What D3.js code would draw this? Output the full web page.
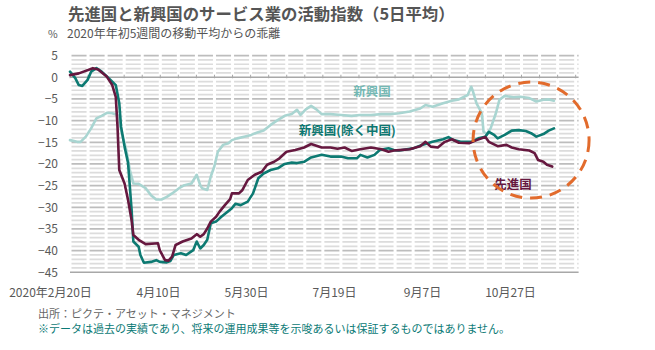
<!DOCTYPE html>
<html>
<head>
<meta charset="utf-8">
<script src="https://cdn.jsdelivr.net/npm/d3@7/dist/d3.min.js"></script>
<style>
  html, body { margin: 0; padding: 0; background: #fff; }
  svg { display: block; }
  text { font-family: "Noto Sans CJK JP", "Noto Sans", sans-serif; }
</style>
</head>
<body>
<svg id="chart" width="655" height="350"></svg>
<script>
// Days counted from 2020-02-20, value = % deviation from the early-2020 5-week average
const startDate = new Date(2020, 1, 20);
const endDate = new Date(2020, 11, 5);

const advanced = [
  [0,0.5],[5,0.9],[13,2.1],[16,1.8],[21,0.1],[24,-1.8],[26,-4.5],[27,-11.4],[28,-21.4],[31,-24.5],
  [33,-28.3],[35,-33],[36,-36.4],[39,-37.5],[43,-38.5],[50,-38.3],[51,-39.9],[54,-42.2],[56,-42.3],[58,-41.4],
  [60,-38.7],[64,-37.9],[69,-37.2],[72,-36.2],[74,-36.8],[76,-36.2],[78,-34.9],[80,-33.3],[83,-32.2],[85,-31],
  [88,-29.5],[91,-28.1],[92,-26.8],[96,-26.8],[98,-26],[101,-23.7],[105,-22.5],[109,-21.8],[112,-20.2],[116,-19.5],
  [119,-18.7],[123,-17.2],[128,-16.8],[133,-16.2],[137,-15.4],[143,-16.2],[148,-16.2],[152,-16.5],[156,-16.2],[160,-17],
  [165,-16.6],[171,-16.2],[177,-16.6],[181,-17.2],[184,-16.9],[187,-16.8],[193,-16.6],[199,-15.9],[202,-14.9],[205,-16],
  [209,-16.2],[213,-14.9],[217,-14.3],[221,-15.1],[227,-15.2],[231,-14.5],[236,-13.8],[238,-14.9],[243,-15.9],[248,-15.6],
  [251,-16.2],[255,-16.6],[261,-16.9],[264,-17.5],[266,-19.1],[269,-19.5],[271,-20.2],[274,-20.6]
];

const emergingExChina = [
  [0,1.3],[3,-0.2],[5,-1.8],[7,-2],[10,-0.6],[12,1.3],[15,2.1],[18,1.3],[22,-0.2],[26,-1.8],
  [28,-6],[29,-11.4],[31,-16],[33,-19.8],[34,-25.2],[35,-30.6],[36,-37.9],[39,-39.1],[40,-41],[42,-42.8],
  [46,-42.6],[49,-42.2],[51,-42.6],[55,-42.7],[57,-42.4],[59,-41],[63,-40.6],[66,-41],[70,-39.9],[72,-37.9],
  [74,-39.5],[76,-38.7],[78,-37.5],[80,-33.7],[83,-33.3],[86,-32.2],[89,-31.2],[92,-30.2],[94,-29.2],[97,-29.5],
  [101,-28.7],[104,-26.8],[107,-23.3],[110,-22.2],[114,-21.4],[118,-21],[122,-20],[126,-19.7],[129,-19.8],[133,-19.5],
  [137,-18.5],[143,-17.9],[148,-18.3],[154,-18.3],[158,-18.7],[163,-18.7],[165,-17.9],[169,-18.5],[173,-17.9],[176,-16.8],
  [181,-16.4],[184,-16.8],[187,-16.9],[195,-16.4],[200,-15.6],[206,-14.9],[212,-14.3],[215,-13.8],[218,-14.5],[222,-14.9],
  [228,-14.9],[232,-14.1],[236,-13.7],[238,-12.6],[241,-13.3],[243,-14.1],[247,-13.3],[251,-12.3],[255,-12.2],[259,-12.4],
  [262,-12.9],[265,-13.7],[269,-13.1],[272,-12.3],[275,-11.8]
];

const emerging = [
  [0,-14.5],[4,-14.9],[6,-14.9],[9,-13.7],[12,-11.8],[15,-9.5],[18,-8.9],[21,-8.2],[24,-8.3],[27,-8.7],
  [30,-13.7],[32,-16.8],[34,-21.4],[36,-24.5],[39,-24.6],[43,-25.6],[46,-27.2],[49,-28.2],[52,-28.2],[55,-27.6],
  [58,-26.8],[62,-25.6],[65,-24.9],[69,-24.5],[72,-22.5],[74,-24.9],[75,-25.6],[78,-26],[80,-22.9],[82,-20.6],
  [84,-17.2],[87,-15.6],[90,-15.2],[92,-14.5],[95,-14.1],[99,-13.7],[103,-13.3],[106,-12.8],[110,-12.3],[114,-11],
  [118,-9.9],[122,-8.9],[126,-8.5],[129,-7.5],[131,-8.7],[134,-7.4],[137,-6.6],[140,-7.4],[143,-8.5],[148,-8.5],
  [154,-8.7],[160,-8.9],[165,-8.7],[171,-8.7],[177,-8.5],[182,-8.5],[187,-8.3],[193,-7.9],[199,-7.2],[202,-6.4],
  [206,-6.8],[212,-6],[217,-5.4],[221,-5.1],[226,-4.1],[228,-2.2],[229,-3.3],[231,-6],[234,-8.3],[235,-12.6],
  [237,-13.1],[239,-11.8],[242,-8.3],[244,-5.2],[247,-4.3],[252,-4.6],[256,-4.5],[261,-4.8],[265,-5.6],[269,-5.2],
  [272,-5.1],[275,-5.4]
];

const yTicks = [5, 0, -5, -10, -15, -20, -25, -30, -35, -40, -45];
const xTickDates = ["2020-02-20", "2020-04-10", "2020-05-30", "2020-07-19", "2020-09-07", "2020-10-27"];

const seriesLabels = [
  { name: "新興国", day: 161, value: -4.3, color: "#74b8b3" },
  { name: "新興国(除く中国)", day: 130, value: -13.3, color: "#0d7770" },
  { name: "先進国", day: 241, value: -25.8, color: "#66183f" }
];

const svg = d3.select("#chart");
const plotLeft = 70, plotRight = 578.6, plotTop = 55.6, plotBottom = 272.3;

const x = d3.scaleTime().domain([startDate, endDate]).range([plotLeft, plotRight]);
const y = d3.scaleLinear().domain([-45, 5]).range([plotBottom, plotTop]);
const dayToDate = d => d3.timeDay.offset(startDate, d);
const parse = d3.timeParse("%Y-%m-%d");

// Titles
svg.append("text").attr("x", 68).attr("y", 19.5)
  .attr("font-size", 16.4).attr("font-weight", "bold").attr("fill", "#555")
  .text("先進国と新興国のサービス業の活動指数（5日平均）");
svg.append("text").attr("x", 67).attr("y", 38)
  .attr("font-size", 12).attr("fill", "#555")
  .text("2020年年初5週間の移動平均からの乖離");
svg.append("text").attr("x", 48).attr("y", 38)
  .attr("font-size", 10.5).attr("fill", "#555").text("%");

// Horizontal gridlines at every unit; dashes break at each minor tick
const tickStep = 18.06;
const grid = svg.append("g");
d3.range(-45, 6).forEach(v => {
  const solid = (v === 0 || v === -45);
  const major = v % 5 === 0;
  const ln = grid.append("line")
    .attr("x1", plotLeft).attr("x2", plotRight)
    .attr("y1", y(v)).attr("y2", y(v))
    .attr("stroke", solid ? "#a8a8a8" : (major ? "#bdbdbd" : "#dcdcdc"))
    .attr("stroke-width", solid ? 1.4 : 1.7);
  if (!solid) {
    ln.attr("stroke-dasharray", `${tickStep - 3} 3`).attr("stroke-dashoffset", -1.5);
  }
});
// Small ticks along the zero line
d3.range(plotLeft, plotRight + 1, tickStep).forEach(px => {
  grid.append("line").attr("x1", px).attr("x2", px)
    .attr("y1", y(0) - 2.5).attr("y2", y(0) + 1)
    .attr("stroke", "#a8a8a8").attr("stroke-width", 1);
});

// Axes
const yAxis = svg.append("g").attr("transform", `translate(${plotLeft},0)`)
  .call(d3.axisLeft(y).tickValues(yTicks).tickSize(0).tickPadding(12).tickFormat(d3.format("d")));
yAxis.select(".domain").remove();
yAxis.selectAll("text").attr("font-size", 12).attr("fill", "#595959")
  .attr("font-family", "'Noto Sans CJK JP', sans-serif");

const fmtFirst = d3.timeFormat("%Y年%-m月%-d日");
const fmt = d3.timeFormat("%-m月%-d日");
const xAxis = svg.append("g").attr("transform", `translate(0,${plotBottom})`)
  .call(d3.axisBottom(x).tickValues(xTickDates.map(parse)).tickSize(0).tickPadding(16)
    .tickFormat((d, i) => i === 0 ? fmtFirst(d) : fmt(d)));
xAxis.select(".domain").remove();
xAxis.selectAll("text").attr("font-size", 12).attr("fill", "#595959")
  .attr("font-family", "'Noto Sans CJK JP', sans-serif");
// keep the long first label inside the left margin
xAxis.selectAll("text").filter((d, i) => i === 0).attr("dx", -20);

// Series lines
const line = d3.line().x(d => x(dayToDate(d[0]))).y(d => y(d[1])).curve(d3.curveLinear);
const series = [
  { data: emerging, color: "#a9d5d1" },
  { data: emergingExChina, color: "#0d7a72" },
  { data: advanced, color: "#66183f" }
];
series.forEach(s => {
  svg.append("path").datum(s.data).attr("d", line)
    .attr("fill", "none").attr("stroke", s.color)
    .attr("stroke-width", 2.6).attr("stroke-linejoin", "round").attr("stroke-linecap", "round");
});

// Series labels
seriesLabels.forEach(l => {
  svg.append("text").attr("x", x(dayToDate(l.day))).attr("y", y(l.value))
    .attr("font-size", 12.5).attr("font-weight", "bold").attr("fill", l.color).text(l.name);
});

// Highlight of the recent divergence
svg.append("ellipse")
  .attr("cx", x(dayToDate(262))).attr("cy", y(-14.5))
  .attr("rx", 58).attr("ry", 58)
  .attr("fill", "none").attr("stroke", "#e26b2c").attr("stroke-width", 3)
  .attr("stroke-dasharray", "12 8");

// Source and disclaimer
svg.append("text").attr("x", 38).attr("y", 317.5)
  .attr("font-size", 11).attr("fill", "#666")
  .text("出所：ピクテ・アセット・マネジメント");
svg.append("text").attr("x", 38).attr("y", 333)
  .attr("font-size", 11).attr("fill", "#0b7a76")
  .text("※データは過去の実績であり、将来の運用成果等を示唆あるいは保証するものではありません。");
</script>
</body>
</html>
